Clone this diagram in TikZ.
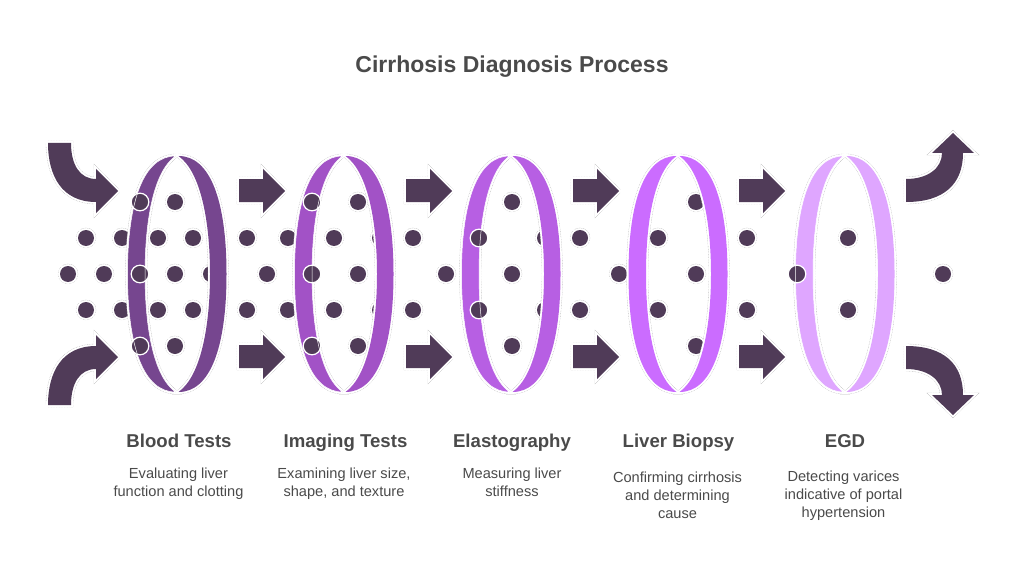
\documentclass[tikz,border=0pt]{standalone}
\usepackage{fontspec}
\setmainfont{Liberation Sans}
\usepackage{xcolor}
\definecolor{dotdark}{HTML}{503B58}
\definecolor{lensa}{HTML}{76468F}
\definecolor{lensb}{HTML}{A252C6}
\definecolor{lensc}{HTML}{B75FE3}
\definecolor{lensd}{HTML}{CB6CFF}
\definecolor{lense}{HTML}{DFA6FF}
\definecolor{textgray}{HTML}{4A4A4A}
\tikzset{%
	halo/.style     = {preaction={draw=gray!55,line width=4.4pt,dash pattern=on 0.8pt off 0.8pt},preaction={draw=white,line width=3.6pt}},
	dot/.style      = {halo,fill=dotdark},
	ringdot/.style  = {fill=dotdark,draw=white,line width=1.2pt},
	bigarrow/.style = {halo,fill=dotdark},
	band/.style     = {halo,fill=#1},
	edgeline/.style = {draw=white,line width=0.5pt},
	titletext/.style= {anchor=base,font=\fontsize{23}{28}\selectfont\bfseries,text=textgray},
	headtext/.style = {anchor=base,font=\fontsize{18.6}{22}\selectfont\bfseries,text=textgray},
	desctext/.style = {font=\fontsize{14.6}{18}\selectfont,text=textgray,align=center},
}
% one lens, drawn around x=0
\newcommand{\lensleft}{(-1.5,156) .. controls (-33,156) and (-49.5,200) .. (-49.5,274) .. controls (-49.5,348) and (-33,392) .. (-1.5,392) .. controls (-24,376) and (-32,326) .. (-32,274) .. controls (-32,222) and (-24,172) .. cycle}
\newcommand{\lensright}{(1.5,156) .. controls (33,156) and (49.5,200) .. (49.5,274) .. controls (49.5,348) and (33,392) .. (1.5,392) .. controls (24,376) and (33,326) .. (33,274) .. controls (33,222) and (24,172) .. cycle}
\newcommand{\flatarrow}{(0,179) -- (24,179) -- (24,169) -- (46,191) -- (24,213) -- (24,202) -- (0,202) -- cycle}
\begin{document}
\begin{tikzpicture}[x=1pt,y=-1pt]
	\useasboundingbox (0,0) rectangle (1024,572);
	\node[titletext] (title) at (512,72.7) {Cirrhosis Diagnosis Process};
	
	% curved arrows at both ends
	\path[bigarrow] (48,143) -- (71,143) .. controls (71,165) and (80,179) .. (96,179) -- (96,169) -- (118,191) -- (96,213) -- (96,202) .. controls (62,202) and (48,176) .. cycle;
	\path[bigarrow] (48,405) -- (71,405) .. controls (71,383) and (80,369) .. (96,369) -- (96,379) -- (118,357) -- (96,335) -- (96,346) .. controls (62,346) and (48,372) .. cycle;
	\path[bigarrow] (906,179) .. controls (928,179) and (942,168) .. (942,153) -- (932,153) -- (953,133) -- (974,153) -- (963,153) .. controls (963,184) and (944,202) .. (906,202) -- cycle;
	\path[bigarrow] (906,369) .. controls (928,369) and (942,380) .. (942,395) -- (932,395) -- (953,415) -- (974,395) -- (963,395) .. controls (963,364) and (944,346) .. (906,346) -- cycle;
	
	% straight arrows between the lenses
	\path[bigarrow,xshift=239pt] \flatarrow;
	\path[bigarrow,xshift=406pt] \flatarrow;
	\path[bigarrow,xshift=573pt] \flatarrow;
	\path[bigarrow,xshift=739pt] \flatarrow;
	\path[bigarrow,xshift=239pt,yshift=-166pt] \flatarrow;
	\path[bigarrow,xshift=406pt,yshift=-166pt] \flatarrow;
	\path[bigarrow,xshift=573pt,yshift=-166pt] \flatarrow;
	\path[bigarrow,xshift=739pt,yshift=-166pt] \flatarrow;
	
	% dots behind the lenses
	\path[dot] (175,202) circle (8) (358,202) circle (8) (512,202) circle (8) (696,202) circle (8);
	\path[dot] (86,238) circle (8) (122,238) circle (8) (158,238) circle (8) (193,238) circle (8) (247,238) circle (8) (288,238) circle (8) (334,238) circle (8) (380,238) circle (8) (413,238) circle (8) (545,238) circle (8) (580,238) circle (8) (658,238) circle (8) (747,238) circle (8) (848,238) circle (8);
	\path[dot] (68,274) circle (8) (104,274) circle (8) (175,274) circle (8) (211,274) circle (8) (267,274) circle (8) (358,274) circle (8) (446,274) circle (8) (512,274) circle (8) (619,274) circle (8) (696,274) circle (8) (943,274) circle (8);
	\path[dot] (86,310) circle (8) (122,310) circle (8) (158,310) circle (8) (193,310) circle (8) (247,310) circle (8) (288,310) circle (8) (334,310) circle (8) (380,310) circle (8) (413,310) circle (8) (545,310) circle (8) (580,310) circle (8) (658,310) circle (8) (747,310) circle (8) (848,310) circle (8);
	\path[dot] (175,346) circle (8) (358,346) circle (8) (512,346) circle (8) (696,346) circle (8);
	
	% the lenses
	\path[band=lensa,xshift=177pt] \lensleft \lensright;
	\path[band=lensb,xshift=344pt] \lensleft \lensright;
	\path[band=lensc,xshift=511pt] \lensleft \lensright;
	\path[band=lensd,xshift=678pt] \lensleft \lensright;
	\path[band=lense,xshift=845pt] \lensleft \lensright;
	
	% dots in front of the lenses
	\path[ringdot] (140,202) circle (8.8) (140,274) circle (8.8) (140,346) circle (8.8);
	\path[ringdot] (312,202) circle (8.8) (312,274) circle (8.8) (312,346) circle (8.8);
	\path[ringdot] (479,238) circle (8.8) (479,310) circle (8.8);
	\path[ringdot] (797,274) circle (8.8);
	\path[edgeline,xshift=177pt] \lensleft;
	\path[edgeline,xshift=344pt] \lensleft;
	\path[edgeline,xshift=511pt] \lensleft;
	\path[edgeline,xshift=845pt] \lensleft;
	
	\node[headtext] (blood) at (179,447.5) {Blood Tests};
	\node[headtext] (imaging) at (345.5,447.5) {Imaging Tests};
	\node[headtext] (elasto) at (512,447.5) {Elastography};
	\node[headtext] (biopsy) at (678.5,447.5) {Liver Biopsy};
	\node[headtext] (egd) at (845,447.5) {EGD};
	
	\node[desctext] (blooddesc) at (178.5,484) {Evaluating liver\\function and clotting};
	\node[desctext] (imagingdesc) at (344,484) {Examining liver size,\\shape, and texture};
	\node[desctext] (elastodesc) at (512,482) {Measuring liver\\stiffness};
	\node[desctext] (biopsydesc) at (677.5,495) {Confirming cirrhosis\\and determining\\cause};
	\node[desctext] (egddesc) at (843.5,496) {Detecting varices\\indicative of portal\\hypertension};
\end{tikzpicture}
\end{document}
